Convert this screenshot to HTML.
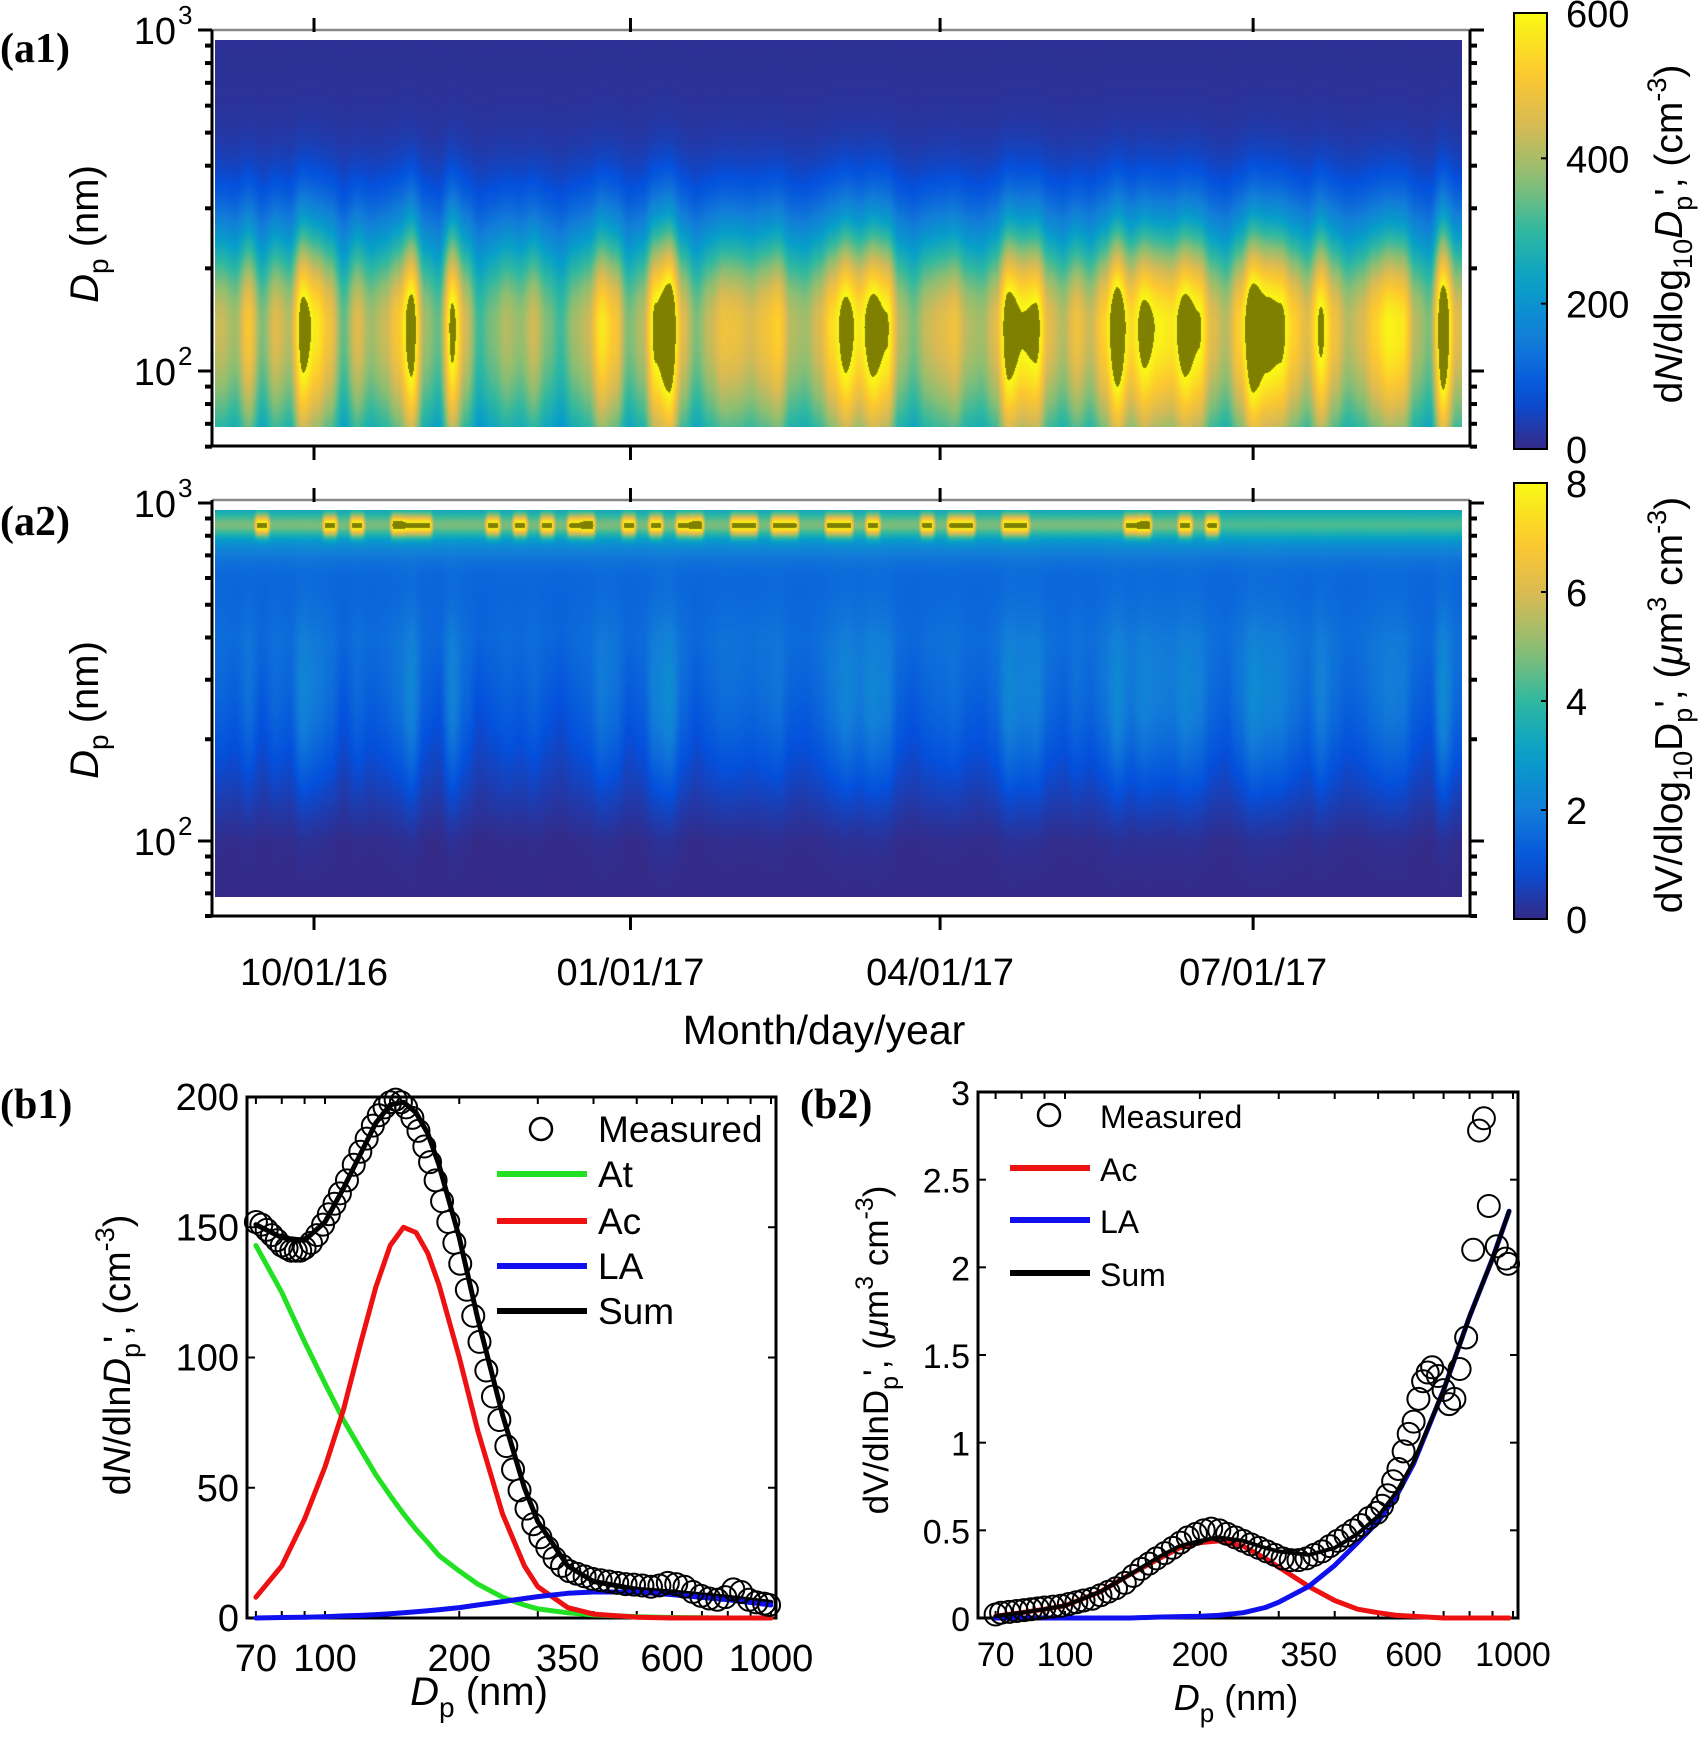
<!DOCTYPE html>
<html><head><meta charset="utf-8">
<style>
html,body{margin:0;padding:0;background:#fff;}
#wrap{position:relative;width:1704px;height:1744px;overflow:hidden;font-family:"Liberation Sans",sans-serif;}
canvas{position:absolute;}
svg{position:absolute;left:0;top:0;}
</style></head>
<body>
<div id="wrap">
<canvas id="hm1" width="1247" height="387" style="left:215px;top:40px"></canvas>
<canvas id="hm2" width="1247" height="387" style="left:215px;top:510px"></canvas>
<svg id="fig" width="1704" height="1744"></svg>
</div>
<script>
// ===== data arrays =====
const dateTickDays = [0, 92, 182, 273];
const dateTickLabels = ["10/01/16", "01/01/17", "04/01/17", "07/01/17"];
const a1Peak = [420,380,500,350,450,400,640,560,480,330,450,380,420,500,650,380,330,620,430,300,350,400,370,430,350,300,380,420,560,500,350,400,620,700,450,350,420,480,470,440,480,520,400,380,440,540,640,560,650,600,400,350,420,450,480,400,380,450,660,600,620,450,400,480,420,520,680,540,630,580,560,650,600,450,400,520,700,640,620,520,450,610,480,400,440,520,580,560,400,350,690,450];
const a2Band = [5,5,5,8.5,5,5,5,5,8.5,5,8.5,5,5,9,8.5,8.5,5,5,5,5,8.5,5,8.5,5,8.5,5,8.5,9,5,5,8.5,5,8.5,5,8.5,9,5,5,8.5,8.5,5,8.5,8.5,5,5,8.5,8.5,5,8.5,5,5,5,8.5,5,8.5,8.5,5,5,8.5,8.5,5,5,5,5,5,5,5,8.5,9,5,5,8.5,5,8.5,4.5,4.5,4.5,4.5,4.5,4.5,4.5,4.5,4.5,4.5,4.5,4.5,4.5,4.5,4.5,4.5,4.5,4.5];
const hmStartDay = -29, hmEndDay = 334;
const cb1Ticks = [0,200,400,600];
const cb2Ticks = [0,2,4,6,8];

const b1XTicks = [70,100,200,350,600,1000];
const b1YTicks = [0,50,100,150,200];
const b1MeasDp = [70,72,74,76,78,80,82,84,86,88, 90,93,96,99,102,105,108,112,116,120, 124,128,132,136,140,144,148,152,157,162, 167,172,177,183,189,195,201,208,215,222, 230,238,246,255,264,273,283,293,304,315, 327,340,353,367,382,398,415,433,452,472, 493,515,538,562,587,613,640,668,697,727, 758,790,823,857,892,928,965,990];
const b1MeasVal = [152,151,149,147,145,143,142,141,141,141, 142,144,147,151,155,159,163,168,174,179, 184,189,193,196,198,199,198,196,192,187, 181,175,168,160,152,144,136,126,116,106, 95,85,76,66,57,49,42,36,31,27, 23,20,18,17,16,15,14.5,14,13.5,13, 12.8,12.5,12,12.5,13.5,13,12,10,8.5,7.5, 7,8,11,10,7,6,5.5,5];
const b1FitDp = [70,80,90,100,110,120,130,140,150,160,170,180,200,220,250,280,300,350,400,500,600,800,1000];
const b1At  = [143,125,106,90,76,65,55,47,40,34,29,24,18,13,8,5,3.5,2,1.2,0.5,0.2,0,0];
const b1Ac  = [8,20,38,58,80,105,127,143,150,148,140,128,100,72,40,20,12,4,1.5,0.3,0,0,0];
const b1LA  = [0,0.2,0.3,0.5,0.8,1,1.3,1.6,2,2.4,2.8,3.2,4,5,6.3,7.5,8.2,9.5,10,10,9,7,5];
const b1Sum = [151,146,145,152,165,178,190,197,198,194,186,174,146,115,78,50,37,20,14,11,10,8,6];

const b2XTicks = [70,100,200,350,600,1000];
const b2YTicks = [0,0.5,1,1.5,2,2.5,3];
const b2FitDp = [70,80,90,100,120,140,160,180,200,220,250,280,300,350,400,450,500,550,600,700,800,900,980];
const b2Ac  = [0.01,0.03,0.05,0.07,0.15,0.25,0.33,0.4,0.43,0.44,0.41,0.34,0.29,0.18,0.1,0.05,0.03,0.015,0.01,0,0,0,0];
const b2LA  = [0,0,0,0,0,0,0.005,0.008,0.01,0.015,0.03,0.06,0.09,0.18,0.3,0.43,0.55,0.7,0.88,1.3,1.72,2.05,2.32];
const b2Sum = [0.01,0.03,0.05,0.07,0.15,0.25,0.34,0.41,0.44,0.46,0.44,0.4,0.38,0.36,0.4,0.48,0.58,0.72,0.89,1.3,1.72,2.05,2.32];
const b2Measured = [[70,0.02],[72,0.03],[75,0.035],[78,0.04],[81,0.045],[84,0.05],[87,0.055],[90,0.06],[94,0.065],[98,0.07],[102,0.08],[106,0.09],[110,0.1],[115,0.11],[120,0.13],[125,0.15],[130,0.17],[136,0.2],[142,0.24],[148,0.28],[154,0.31],[160,0.34],[167,0.37],[174,0.4],[181,0.43],[188,0.46],[196,0.48],[204,0.5],[212,0.51],[221,0.5],[230,0.48],[240,0.46],[250,0.44],[260,0.42],[271,0.4],[282,0.38],[294,0.36],[306,0.34],[319,0.33],[332,0.33],[346,0.34],[360,0.36],[375,0.38],[390,0.41],[406,0.44],[423,0.47],[440,0.5],[458,0.53],[477,0.57],[497,0.6],[510,0.64],[525,0.7],[540,0.78],[555,0.85],[570,0.95],[585,1.05],[600,1.12],[615,1.25],[630,1.35],[645,1.4],[660,1.43],[680,1.38],[700,1.3],[720,1.22],[740,1.25],[760,1.42],[786,1.6],[815,2.1],[840,2.78],[861,2.85],[883,2.35],[920,2.12],[963,2.05],[975,2.02]];

// ===== helpers =====
const NS = "http://www.w3.org/2000/svg";
const svg = document.getElementById("fig");
function mk(tag, attrs, parent){
  const e = document.createElementNS(NS, tag);
  for (const k in attrs) e.setAttribute(k, attrs[k]);
  (parent||svg).appendChild(e);
  return e;
}
function txt(str, x, y, size, anchor, parent, extra){
  const t = mk("text", Object.assign({x:x, y:y, "font-size":size, "text-anchor":anchor||"middle", "font-family":"Liberation Sans, sans-serif", fill:"#000"}, extra||{}), parent);
  t.textContent = str;
  return t;
}
const cmapStops = [[0,[53,42,135]],[0.12,[4,80,220]],[0.25,[18,125,216]],[0.38,[7,160,200]],[0.5,[48,184,160]],[0.62,[140,190,115]],[0.74,[215,186,85]],[0.86,[253,200,48]],[1,[249,250,20]]];
function cmap(v){
  if (v > 1.0) return [128,128,0];
  if (v < 0) v = 0;
  for (let i=1;i<cmapStops.length;i++){
    if (v <= cmapStops[i][0]){
      const a = cmapStops[i-1], b = cmapStops[i];
      const t = (v-a[0])/(b[0]-a[0]);
      return [0,1,2].map(k => Math.round(a[1][k] + t*(b[1][k]-a[1][k])));
    }
  }
  return cmapStops[cmapStops.length-1][1];
}
const xDate = d => 314 + d*3.44;
const yA1 = dp => 371 - (Math.log10(dp)-2)*341;
const yA2 = dp => 841 - (Math.log10(dp)-2)*338;
const xB1 = d => 325 + (Math.log10(d)-2)*446;
const yB1 = v => 1618 - v*(521/200);
const xB2 = d => 1065 + (Math.log10(d)-2)*448;
const yB2 = v => 1618 - v*(526/3);
function sampleBins(arr, day, smooth){
  const binW = (hmEndDay-hmStartDay)/arr.length;
  let f = (day-hmStartDay)/binW - 0.5;
  if (f < 0) f = 0; if (f > arr.length-1) f = arr.length-1;
  const i = Math.floor(f), t = f-i;
  const a = arr[i], b = arr[Math.min(i+1,arr.length-1)];
  let tt = t;
  if (smooth === "sharp") tt = t < 0.35 ? 0 : (t > 0.65 ? 1 : (t-0.35)/0.3);
  else tt = t*t*(3-2*t);
  return a + (b-a)*tt;
}

// ===== heatmaps =====
function drawHeat(id, yScale, fn){
  const c = document.getElementById(id);
  const ctx = c.getContext("2d");
  const W = c.width, H = c.height;
  const img = ctx.createImageData(W, H);
  const top = parseFloat(c.style.top), left = parseFloat(c.style.left);
  for (let x=0;x<W;x++){
    const day = (left + x - 314)/3.44;
    for (let y=0;y<H;y++){
      const py = top + y;
      const dp = Math.pow(10, 2 + (yScale.zero - py)/yScale.perDec);
      const col = cmap(fn(day, dp));
      const o = (y*W + x)*4;
      img.data[o]=col[0]; img.data[o+1]=col[1]; img.data[o+2]=col[2]; img.data[o+3]=255;
    }
  }
  ctx.putImageData(img, 0, 0);
}
drawHeat("hm1", {zero:371, perDec:341}, (day, dp) => {
  const pk = sampleBins(a1Peak, day);
  const l = Math.log(dp/135);
  const s = l < 0 ? 0.75 : 0.5;
  const v = pk*Math.exp(-l*l/(2*s*s)) + 12;
  return v/600;
});
drawHeat("hm2", {zero:841, perDec:338}, (day, dp) => {
  const band = sampleBins(a2Band, day, "sharp");
  const pk = sampleBins(a1Peak, day);
  const lg = Math.log10(dp);
  const base = 1.4*Math.max(0, Math.min(1, (lg-2.0)/0.6)) + 2.0*Math.exp(-Math.pow((lg-2.95)/0.09,2));
  const lb = Math.log(dp/860);
  const bandV = (band-3.6)*Math.exp(-lb*lb/(2*0.05*0.05));
  const lm = Math.log(dp/240);
  const mid = Math.max(0,(pk-300)/600)*2.2*Math.exp(-lm*lm/(2*0.45*0.45));
  return (base + Math.max(0,bandV) + mid)/8;
});

// ===== panel a axes =====
function panelA(prefix, yTop, yBot, yScale, tickDec){
  const g = mk("g", {});
  
  
  mk("line", {x1:212, y1:yTop, x2:1470, y2:yTop, stroke:"#888", "stroke-width":2.5}, g);
  mk("polyline", {points:`212,${yTop} 212,${yBot} 1470,${yBot} 1470,${yTop}`, fill:"none", stroke:"#000", "stroke-width":3}, g);
  dateTickDays.forEach(d => {
    mk("line", {x1:xDate(d), y1:yTop-12, x2:xDate(d), y2:yTop+2, stroke:"#000", "stroke-width":3}, g);
    mk("line", {x1:xDate(d), y1:yBot, x2:xDate(d), y2:yBot+14, stroke:"#000", "stroke-width":3}, g);
  });
  [60,70,80,90,100,200,300,400,500,600,700,800,900,1000].forEach(dp => {
    const y = yScale(dp);
    if (y < yTop-1 || y > yBot+1) return;
    const major = (dp===100||dp===1000);
    const L = major ? 14 : 7;
    mk("line", {x1:212-L, y1:y, x2:212, y2:y, stroke:"#000", "stroke-width":major?3:4}, g);
    mk("line", {x1:1470, y1:y, x2:1470+L, y2:y, stroke:"#000", "stroke-width":major?3:4}, g);
  });
  tickDec.forEach(k => {
    const y = yScale(Math.pow(10,k));
    const t = txt("10", 176, y+14, 38, "end", g);
    
    
    const s = txt(String(k), 178, y-6, 26, "start", g);
    
    
  });
  return g;
}
panelA("a1", 30, 446, yA1, [2,3]);
panelA("a2", 500, 916, yA2, [2,3]);

dateTickDays.forEach((d,i) => {
  const t = txt(dateTickLabels[i], xDate(d), 985, 38, "middle");
  
  
});
let t0 = txt("Month/day/year", 824, 1044, 41, "middle");



function yTitleDp(cx, cy, name){
  const t = mk("text", {transform:`translate(${cx},${cy}) rotate(-90)`, "text-anchor":"middle", "font-size":40, "font-family":"Liberation Sans, sans-serif"});
  
  
  t.innerHTML = '<tspan font-style="italic">D</tspan><tspan font-size="28" dy="10">p</tspan><tspan dy="-10"> (nm)</tspan>';
}
yTitleDp(98, 234, "a1-y-axis-title");
yTitleDp(98, 710, "a2-y-axis-title");

function panelLabel(s, x, y, name){
  const t = txt(s, x, y, 42, "start", svg, {"font-family":"Liberation Serif, serif", "font-weight":"bold"});
  
  
}
panelLabel("(a1)", 0, 62, "label-a1");
panelLabel("(a2)", 0, 535, "label-a2");
panelLabel("(b1)", 0, 1118, "label-b1");
panelLabel("(b2)", 800, 1118, "label-b2");

// ===== colorbars =====
function colorbar(id, yTop, yBot, ticks, maxV){
  const gid = "grad"+id;
  const defs = mk("defs", {});
  const lg = mk("linearGradient", {id:gid, x1:0, y1:1, x2:0, y2:0}, defs);
  for (let i=0;i<=20;i++){
    const c = cmap(i/20);
    mk("stop", {offset:(i/20), "stop-color":`rgb(${c[0]},${c[1]},${c[2]})`}, lg);
  }
  const r = mk("rect", {x:1514, y:yTop, width:33, height:yBot-yTop, fill:`url(#${gid})`, stroke:"#000", "stroke-width":2});
  
  
  ticks.forEach(v => {
    const y = yBot - (v/maxV)*(yBot-yTop);
    mk("line", {x1:1541, y1:y, x2:1547, y2:y, stroke:"#000", "stroke-width":2});
    const t = txt(String(v), 1566, y+14, 38, "start");
    
    
  });
}
colorbar("a1", 13, 449, cb1Ticks, 600);
colorbar("a2", 483, 919, cb2Ticks, 8);
(function(){
  let t = mk("text", {transform:"translate(1682,234) rotate(-90)", "text-anchor":"middle", "font-size":39, "font-family":"Liberation Sans, sans-serif"});
  
  
  t.innerHTML = 'd<tspan font-style="italic">N</tspan>/dlog<tspan font-size="27" dy="10">10</tspan><tspan dy="-10" font-style="italic">D</tspan><tspan font-size="27" dy="10">p</tspan><tspan dy="-10">\', (cm</tspan><tspan font-size="27" dy="-16">-3</tspan><tspan dy="16">)</tspan>';
  t = mk("text", {transform:"translate(1682,705) rotate(-90)", "text-anchor":"middle", "font-size":39, "font-family":"Liberation Sans, sans-serif"});
  
  
  t.innerHTML = 'dV/dlog<tspan font-size="27" dy="10">10</tspan><tspan dy="-10">D</tspan><tspan font-size="27" dy="10">p</tspan><tspan dy="-10">\', (</tspan><tspan font-style="italic">μ</tspan>m<tspan font-size="27" dy="-16">3</tspan><tspan dy="16"> cm</tspan><tspan font-size="27" dy="-16">-3</tspan><tspan dy="16">)</tspan>';
})();

// ===== b panels =====
function polyPts(dps, vals, xs, ys){
  return dps.map((d,i)=> xs(d).toFixed(1)+","+ys(vals[i]).toFixed(1)).join(" ");
}
function frameB(prefix, x0, x1, y0, y1, xTicks, yTicks, xs, ys, fs, yfmt){
  const g = mk("g", {});
  
  
  mk("rect", {x:x0, y:y0, width:x1-x0, height:y1-y0, fill:"none", stroke:"#000", "stroke-width":3}, g);
  [70,80,90,100,200,300,400,500,600,700,800,900,1000].forEach(d => {
    const x = xs(d); if (x < x0 || x > x1) return;
    mk("line", {x1:x, y1:y1, x2:x, y2:y1-7, stroke:"#000", "stroke-width":2}, g);
    mk("line", {x1:x, y1:y0, x2:x, y2:y0+7, stroke:"#000", "stroke-width":2}, g);
  });
  xTicks.forEach(d => {
    const t = txt(String(d), xs(d), y1+ (prefix==="b1"?53:48), fs, "middle", g);
    
    
  });
  yTicks.forEach(v => {
    const y = ys(v);
    mk("line", {x1:x0, y1:y, x2:x0+8, y2:y, stroke:"#000", "stroke-width":2}, g);
    mk("line", {x1:x1, y1:y, x2:x1-8, y2:y, stroke:"#000", "stroke-width":2}, g);
    const t = txt(yfmt(v), x0-8, y+13, fs, "end", g);
    
    
  });
}
frameB("b1", 247, 776, 1097, 1618, b1XTicks, b1YTicks, xB1, yB1, 38, v=>String(v));
frameB("b2", 978, 1518, 1092, 1618, b2XTicks, b2YTicks, xB2, yB2, 34, v=>String(v));

function line(name, pts, color, w){
  const p = mk("polyline", {points:pts, fill:"none", stroke:color, "stroke-width":w, "stroke-linejoin":"round", "stroke-linecap":"round"});
  
  
}
line("b1-at-line", polyPts(b1FitDp, b1At, xB1, yB1), "#22e022", 5);
line("b1-ac-line", polyPts(b1FitDp, b1Ac, xB1, yB1), "#ee1111", 5);
line("b1-sum-line", polyPts(b1FitDp, b1Sum, xB1, yB1), "#000", 5);
line("b1-la-line", polyPts(b1FitDp, b1LA, xB1, yB1), "#1010ee", 5);
b1MeasDp.forEach((d,i) => {
  const c = mk("circle", {cx:xB1(d), cy:yB1(b1MeasVal[i]), r:11, fill:"none", stroke:"#000", "stroke-width":2});
  
  
});
line("b2-ac-line", polyPts(b2FitDp, b2Ac, xB2, yB2), "#ee1111", 5);
line("b2-la-line", polyPts(b2FitDp, b2LA, xB2, yB2), "#1010ee", 5);
line("b2-sum-line", polyPts(b2FitDp, b2Sum, xB2, yB2), "#000", 4);
b2Measured.forEach(p => {
  const c = mk("circle", {cx:xB2(p[0]), cy:yB2(p[1]), r:11, fill:"none", stroke:"#000", "stroke-width":2});
  
  
});

function legend(prefix, entries, lx0, lx1, tx, ys, cx, fs){
  const g = mk("g", {});
  
  
  entries.forEach((e,i) => {
    const y = ys[i];
    if (e[1] === null){
      mk("circle", {cx:cx, cy:y, r:11, fill:"none", stroke:"#000", "stroke-width":2.5}, g);
    } else {
      mk("line", {x1:lx0, y1:y, x2:lx1, y2:y, stroke:e[1], "stroke-width":6}, g);
    }
    const t = txt(e[0], tx, y+13, fs, "start", g);
    
    
  });
}
legend("b1", [["Measured",null],["At","#22e022"],["Ac","#ee1111"],["LA","#1010ee"],["Sum","#000"]], 497, 587, 598, [1129,1174,1221,1266,1311], 541, 37);
legend("b2", [["Measured",null],["Ac","#ee1111"],["LA","#1010ee"],["Sum","#000"]], 1010, 1090, 1100, [1115,1168,1220,1273], 1049, 32);

(function(){
  let t = mk("text", {transform:"translate(479,1705)", "text-anchor":"middle", "font-size":40, "font-family":"Liberation Sans, sans-serif"});
  
  
  t.innerHTML = '<tspan font-style="italic">D</tspan><tspan font-size="28" dy="12">p</tspan><tspan dy="-12"> (nm)</tspan>';
  t = mk("text", {transform:"translate(1236,1710)", "text-anchor":"middle", "font-size":36, "font-family":"Liberation Sans, sans-serif"});
  
  
  t.innerHTML = '<tspan font-style="italic">D</tspan><tspan font-size="26" dy="12">p</tspan><tspan dy="-12"> (nm)</tspan>';
  t = mk("text", {transform:"translate(130,1355) rotate(-90)", "text-anchor":"middle", "font-size":38, "font-family":"Liberation Sans, sans-serif"});
  
  
  t.innerHTML = 'd<tspan font-style="italic">N</tspan>/dln<tspan font-style="italic">D</tspan><tspan font-size="27" dy="10">p</tspan><tspan dy="-10">\', (cm</tspan><tspan font-size="27" dy="-16">-3</tspan><tspan dy="16">)</tspan>';
  t = mk("text", {transform:"translate(888,1350) rotate(-90)", "text-anchor":"middle", "font-size":35, "font-family":"Liberation Sans, sans-serif"});
  
  
  t.innerHTML = 'dV/dlnD<tspan font-size="25" dy="10">p</tspan><tspan dy="-10">\', (</tspan><tspan font-style="italic">μ</tspan>m<tspan font-size="25" dy="-15">3</tspan><tspan dy="15"> cm</tspan><tspan font-size="25" dy="-15">-3</tspan><tspan dy="15">)</tspan>';
})();
</script>
</body></html>
